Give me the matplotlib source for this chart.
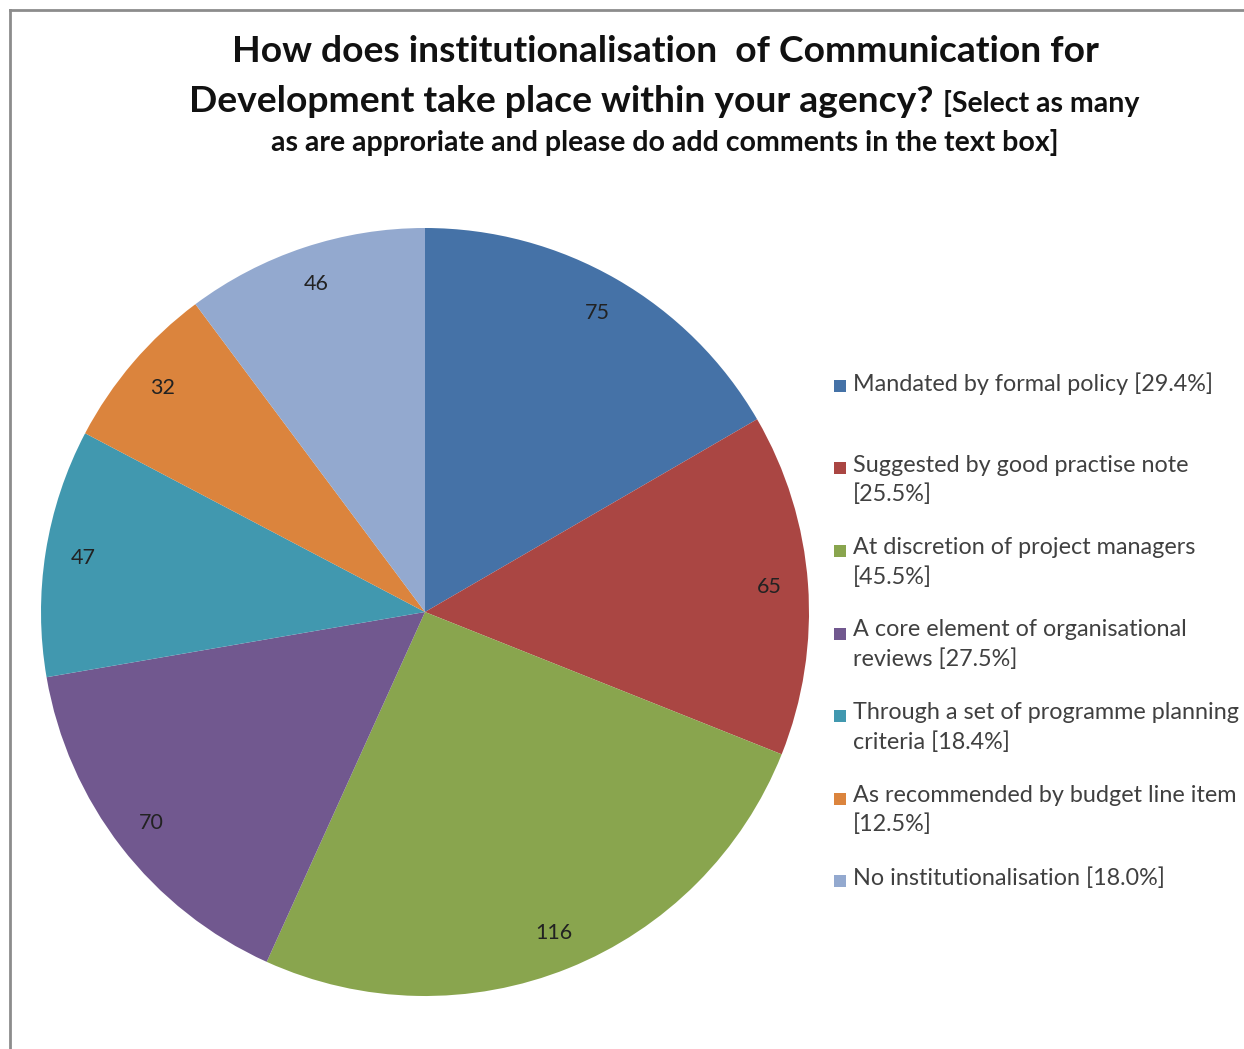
import matplotlib
matplotlib.use("Agg")
import matplotlib.pyplot as plt
from matplotlib.lines import Line2D
from matplotlib.patches import Rectangle

plt.rcParams['font.family'] = ['Lato', 'DejaVu Sans']

# responses per option (order as in the legend)
counts = [75, 65, 116, 70, 47, 32, 46]
legend_labels = [
    "Mandated by formal policy [29.4%]",
    "Suggested by good practise note\n[25.5%]",
    "At discretion of project managers\n[45.5%]",
    "A core element of organisational\nreviews [27.5%]",
    "Through a set of programme planning\ncriteria [18.4%]",
    "As recommended by budget line item\n[12.5%]",
    "No institutionalisation [18.0%]",
]
colors = ['#4572A7', '#AA4643', '#89A54E', '#71588F', '#4198AF', '#DB843D', '#93A9CF']

W, H = 1244, 1049
fig = plt.figure(figsize=(W / 100, H / 100), dpi=100)

# pie axes: centre (425, 612) px, radius 384 px
cx, cy, r = 425, 612, 384
ax = fig.add_axes([(cx - r) / W, (H - cy - r) / H, 2 * r / W, 2 * r / H])
wedges, texts = ax.pie(counts, colors=colors, startangle=90, counterclock=False,
                       labels=[str(c) for c in counts], labeldistance=0.9,
                       wedgeprops=dict(linewidth=0),
                       textprops=dict(fontsize=15.5, color='#222222', ha='center', va='center'))
ax.set_xlim(-1, 1)
ax.set_ylim(-1, 1)
ax.set_aspect('equal')
ax.axis('off')

BIG, SMALL = 26.8, 20.5

# title, three lines, second line mixes two sizes
fig.text(665 / W, 1 - 52 / H, "How does institutionalisation  of Communication for",
         ha='center', va='center', fontsize=BIG, fontweight='bold', color='#111111')
fig.text(665 / W, 1 - 143 / H, "as are approriate and please do add comments in the text box]",
         ha='center', va='center', fontsize=SMALL, fontweight='bold', color='#111111')

big = fig.text(0, 1 - 100 / H, "Development take place within your agency? ",
               ha='left', va='baseline', fontsize=BIG, fontweight='bold', color='#111111')
small = fig.text(0, 1 - 100 / H, "[Select as many",
                 ha='left', va='baseline', fontsize=SMALL, fontweight='bold', color='#111111')
fig.canvas.draw()
rend = fig.canvas.get_renderer()
w_big = big.get_window_extent(rend).width
w_small = small.get_window_extent(rend).width
x0 = 664 - (w_big + w_small) / 2
base_y = 1 - 112 / H
big.set_position((x0 / W, base_y))
small.set_position(((x0 + w_big) / W, base_y))

# legend drawn by hand: evenly spaced entries
ly0, lstep = 386, 82.5
for i, (lab, col) in enumerate(zip(legend_labels, colors)):
    y = ly0 + i * lstep
    fig.patches.append(Rectangle((834 / W, 1 - (y + 6) / H), 12 / W, 12 / H,
                                 transform=fig.transFigure, facecolor=col,
                                 edgecolor='none'))
    fig.text(853 / W, 1 - (y - 14) / H, lab, ha='left', va='top', fontsize=16.8,
             color='#404040', linespacing=1.45)

# outer frame (left and top edges)
fig.lines.append(Line2D([10 / W, 10 / W], [0, 1 - 10 / H], transform=fig.transFigure,
                        color='#8c8c8c', linewidth=2))
fig.lines.append(Line2D([10 / W, 1], [1 - 10 / H, 1 - 10 / H], transform=fig.transFigure,
                        color='#8c8c8c', linewidth=2))

fig.savefig("out.png", dpi=100, facecolor='white')
